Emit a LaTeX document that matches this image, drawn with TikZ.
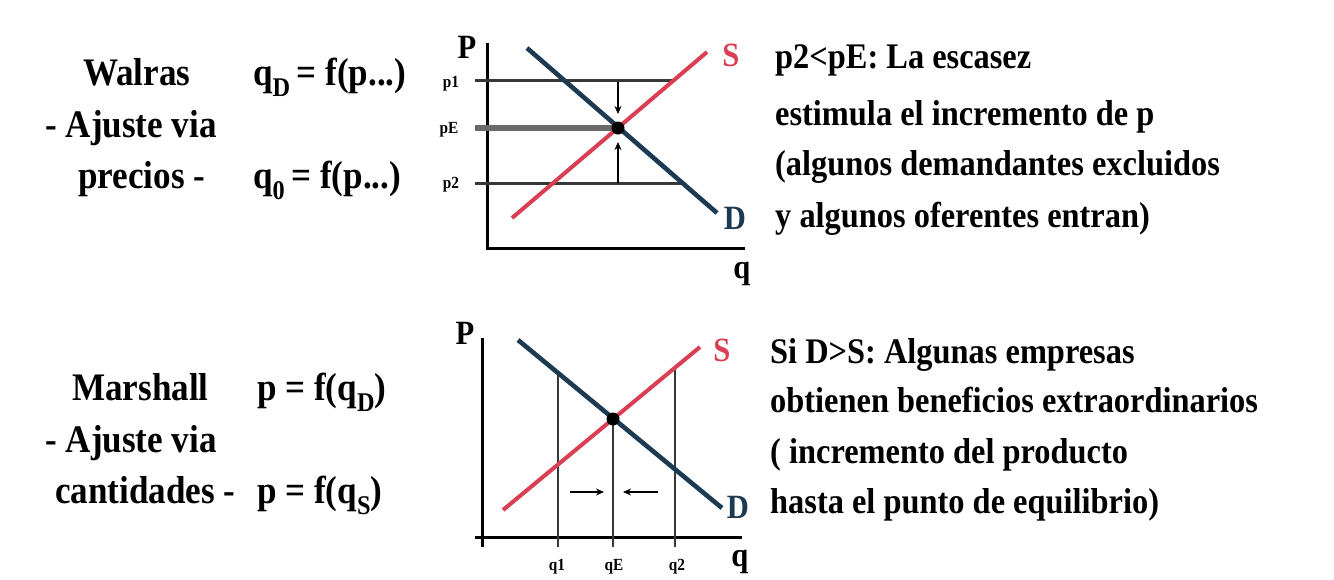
\documentclass[tikz,border=0pt]{standalone}
\usepackage{fontspec}
\setmainfont{Liberation Serif}[FakeStretch=0.9]
\usetikzlibrary{arrows.meta}
\definecolor{dcol}{RGB}{28,58,82}
\definecolor{scol}{RGB}{218,62,82}
\definecolor{hcol}{RGB}{55,55,55}
\newcommand\sbx[1]{\raisebox{-11pt}{\fontsize{27}{27}\selectfont #1}}
\begin{document}
\begin{tikzpicture}[x=1pt,y=-1pt,
  txt/.style={anchor=base west, inner sep=0pt, font=\fontsize{39}{44}\selectfont\bfseries},
  rtxt/.style={anchor=base west, inner sep=0pt, font=\fontsize{36}{40}\selectfont\bfseries},
  axlab/.style={inner sep=0pt, font=\fontsize{34}{38}\selectfont\bfseries},
  tick/.style={inner sep=0pt, font=\fontsize{17}{18}\selectfont\bfseries},
  axis/.style={draw=black, line width=3pt},
  dline/.style={draw=dcol, line width=4.6pt},
  sline/.style={draw=scol, line width=4pt},
  hline/.style={draw=hcol, line width=3pt},
  arr/.style={draw=black, line width=1.7pt, -{Stealth[length=8pt,width=7pt]}},
  eqdot/.style={circle, fill=black, inner sep=0pt, minimum size=13pt}]
\fill[white] (0,0) rectangle (1334,579);
\useasboundingbox (0,0) rectangle (1334,579);

% ---------- left texts ----------
\node[txt] (walras) at (83,85) {Walras};
\node[txt] (aj1) at (45,137) {- Ajuste via};
\node[txt] (prec) at (78,188) {precios -};
\node[txt] (eqd) at (253,85) {q\sbx{D}\,= f(p...)};
\node[txt] (eqo) at (253,188) {q\sbx{0}\,= f(p...)};

\node[txt] (marsh) at (72,400) {Marshall};
\node[txt] (aj2) at (45,452) {- Ajuste via};
\node[txt] (cant) at (55,503) {cantidades -};
\node[txt] (eqpd) at (257,400) {p = f(q\sbx{D})};
\node[txt] (eqps) at (257,503) {p = f(q\sbx{S})};

% ---------- top chart ----------
\coordinate (tO) at (487,248);
\coordinate (tYt) at (487,43);
\coordinate (tXr) at (745,248);
\draw[axis] (tYt) -- (tO) -- (tXr);
\node[axlab] (tP) at (467,47) {P};
\node[axlab] (tq) at (742,274) {q};
\coordinate (tD1) at (527,48);
\coordinate (tD2) at (717,213);
\coordinate (tS1) at (512,218);
\coordinate (tS2) at (707,52);
\coordinate (tE) at (618,128);
\coordinate (tp1a) at (475,80);
\coordinate (tp1b) at (672,80);
\coordinate (tpEa) at (475,128);
\coordinate (tp2a) at (475,183);
\coordinate (tp2b) at (682,183);
\draw[hline] (tp1a) -- (tp1b);
\draw[hline, line width=5.5pt, draw=hcol!75] (tpEa) -- (tE);
\draw[hline] (tp2a) -- (tp2b);
\draw[dline] (tD1) -- (tD2);
\draw[sline] (tS1) -- (tS2);
\node[eqdot] (tEd) at (tE) {};
\coordinate (ta1s) at (618,82);
\coordinate (ta1e) at (618,114);
\coordinate (ta2s) at (618,183);
\coordinate (ta2e) at (618,142);
\draw[arr] (ta1s) -- (ta1e);
\draw[arr] (ta2s) -- (ta2e);
\node[axlab, text=scol] (tSl) at (731,55) {S};
\node[axlab, text=dcol] (tDl) at (735,218) {D};
\node[tick] (tk1) at (451,84) {p1};
\node[tick] (tkE) at (449,130) {pE};
\node[tick] (tk2) at (451,185) {p2};

% ---------- bottom chart ----------
\coordinate (bYt) at (482,338);
\coordinate (bYb) at (482,547);
\coordinate (bXl) at (475,537);
\coordinate (bXr) at (742,537);
\draw[axis] (bYt) -- (bYb);
\draw[axis] (bXl) -- (bXr);
\node[axlab] (bP) at (465,333) {P};
\node[axlab] (bq) at (740,562) {q};
\coordinate (bD1) at (518,340);
\coordinate (bD2) at (722,508);
\coordinate (bS1) at (503,510);
\coordinate (bS2) at (700,347);
\coordinate (bE) at (613,419);
\coordinate (bq1t) at (558,373);
\coordinate (bq1b) at (558,547);
\coordinate (bqEb) at (613,547);
\coordinate (bq2t) at (675,368);
\coordinate (bq2b) at (675,547);
\draw[hline, line width=2.6pt] (bq1t) -- (bq1b);
\draw[hline, line width=2.6pt] (bE) -- (bqEb);
\draw[hline, line width=2.6pt] (bq2t) -- (bq2b);
\draw[dline] (bD1) -- (bD2);
\draw[sline] (bS1) -- (bS2);
\node[eqdot] (bEd) at (bE) {};
\coordinate (ba1s) at (570,492);
\coordinate (ba1e) at (604,492);
\coordinate (ba2s) at (658,492);
\coordinate (ba2e) at (623,492);
\draw[arr] (ba1s) -- (ba1e);
\draw[arr] (ba2s) -- (ba2e);
\node[axlab, text=scol] (bSl) at (722,350) {S};
\node[axlab, text=dcol] (bDl) at (738,507) {D};
\node[tick] (bk1) at (557,567) {q1};
\node[tick] (bkE) at (614,567) {qE};
\node[tick] (bk2) at (677,567) {q2};

% ---------- right texts ----------
\node[rtxt] (r1) at (775,68) {p2<pE: La escasez};
\node[rtxt] (r2) at (775,125) {estimula el incremento de p};
\node[rtxt] (r3) at (775,175) {(algunos demandantes excluidos};
\node[rtxt] (r4) at (775,227) {y algunos oferentes entran)};

\node[rtxt] (s1) at (770,363) {Si D>S: Algunas empresas};
\node[rtxt] (s2) at (770,412) {obtienen beneficios extraordinarios};
\node[rtxt] (s3) at (770,463) {( incremento del producto};
\node[rtxt] (s4) at (770,513) {hasta el punto de equilibrio)};
\end{tikzpicture}
\end{document}
